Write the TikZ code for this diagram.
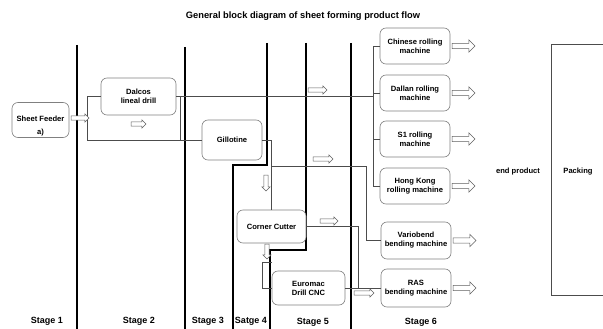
\documentclass[tikz,border=0pt]{standalone}
\usepackage{fontspec}
\setmainfont{Liberation Sans}
\usetikzlibrary{shapes.arrows}

\tikzset{
  machine/.style={draw=gray, line width=0.6pt, rounded corners=6pt, fill=white, align=center,
    font=\fontsize{7.6}{9}\selectfont\bfseries, inner sep=1pt},
  flow/.style={draw=gray!60!black, line width=0.6pt},
  divider/.style={line width=1.4pt},
  hollow/.style={single arrow, draw=gray!75!black, fill=white, line width=0.5pt,
    inner sep=1.8pt, single arrow head extend=2pt, minimum height=18pt},
  bigarrow/.style={hollow, inner sep=2.4pt, single arrow head extend=3.5pt, minimum height=23pt},
  stagelabel/.style={font=\fontsize{9}{10}\selectfont\bfseries}
}

\begin{document}
\begin{tikzpicture}[x=1pt, y=-1pt]
    \useasboundingbox (0,0) rectangle (603,329);

    % title
    \node (title) at (303,16) {\fontsize{9.3}{11}\selectfont\bfseries General block diagram of sheet forming product flow};

    % stage dividers
    \draw[divider] (77,45) -- (77,329);
    \draw[divider] (185,47) -- (185,329);
    \draw[divider] (267,43) -- (267,165) -- (233,165) -- (233,329);
    \draw[divider] (306,43) -- (306,250) -- (270,250) -- (270,329);
    \draw[divider] (351,43) -- (351,329);

    % machines
    \node[machine, minimum width=57pt, minimum height=35pt] (feeder) at (40.5,120) {\rule{0pt}{17pt}Sheet Feeder\\[4pt]a)};
    \node[machine, minimum width=75pt, minimum height=37pt] (dalcos) at (138.5,96.5) {Dalcos\\lineal drill};
    \node[machine, minimum width=60pt, minimum height=40pt] (gill) at (232,140) {Gillotine};
    \node[machine, minimum width=69pt, minimum height=33pt] (corner) at (271.5,226.5) {Corner Cutter};
    \node[machine, minimum width=73pt, minimum height=34pt] (euromac) at (308.5,288) {Euromac\\Drill CNC};

    \node[machine, minimum width=70pt, minimum height=36pt] (chinese) at (415,46) {Chinese rolling\\machine};
    \node[machine, minimum width=70pt, minimum height=36pt] (dallan) at (415,93) {Dallan rolling\\machine};
    \node[machine, minimum width=70pt, minimum height=36pt] (s1) at (415,139) {S1 rolling\\machine};
    \node[machine, minimum width=70pt, minimum height=36pt] (hk) at (415,186) {Hong Kong\\rolling machine};
    \node[machine, minimum width=70pt, minimum height=37pt] (vario) at (416,240.5) {Variobend\\bending machine};
    \node[machine, minimum width=70pt, minimum height=38pt] (ras) at (416,288) {RAS\\bending machine};

    % flow lines
    \coordinate (bus) at (373,46);
    \coordinate (j1) at (180,140);
    \coordinate (j2) at (271.5,166);
    \draw[flow] (dalcos.west) -- ++(-13,0) |- (gill.west);
    \draw[flow] (dalcos.east) -| (j1);
    \draw[flow] (dalcos.east) -- (dalcos.east -| bus);
    \draw[flow] (chinese.west) -| (bus) |- (hk.west);
    \foreach \m in {dallan,s1} \draw[flow] (\m.west) -- (\m.west -| bus);
    \draw[flow] (gill.east) -| (corner.north);
    \draw[flow] (j2) -- ++(94.5,0) |- (vario.west);
    \draw[flow] (corner.east) -- ++(52,0) |- (ras.west);
    \draw[flow] (euromac.east) -- (ras.west);
    \draw[flow] (euromac.west) -- ++(-9,0) -- ++(0,-26) -- ++(9,0);

    % hollow arrows
    \node[hollow] (a0) at (79,118) {};
    \node[hollow, minimum height=15pt] (a1) at (137.5,124) {};
    \node[hollow, minimum height=19pt] (a2) at (316.5,90) {};
    \node[hollow, minimum height=20pt] (a3) at (322,159) {};
    \node[hollow, minimum height=16pt, shape border rotate=270] (a4) at (266,182) {};
    \node[hollow] (a5) at (328,221) {};
    \node[hollow, minimum height=15pt, shape border rotate=270] (a6) at (267,250.5) {};
    \node[hollow, minimum height=20pt] (a7) at (363,293) {};
    \foreach \m/\n in {chinese/b1,dallan/b2,s1/b3,hk/b4,vario/b5,ras/b6}
        \node[bigarrow, anchor=west] (\n) at ([xshift=1.5pt]\m.east) {};

    % end
    \node[font=\fontsize{7.6}{9}\selectfont\bfseries] (endp) at (518,172) {end product};
    \node[font=\fontsize{7.6}{9}\selectfont\bfseries] (pack) at (578,172) {Packing};
    \draw[flow] (603,44) -| (551,295) -- (603,295);

    % stages
    \node[stagelabel] (s1l) at (47,321) {Stage 1};
    \node[stagelabel] (s2l) at (139,321) {Stage 2};
    \node[stagelabel] (s3l) at (208,321) {Stage 3};
    \node[stagelabel] (s4l) at (251,321) {Satge 4};
    \node[stagelabel] (s5l) at (313,322) {Stage 5};
    \node[stagelabel] (s6l) at (421,322) {Stage 6};
\end{tikzpicture}
\end{document}
